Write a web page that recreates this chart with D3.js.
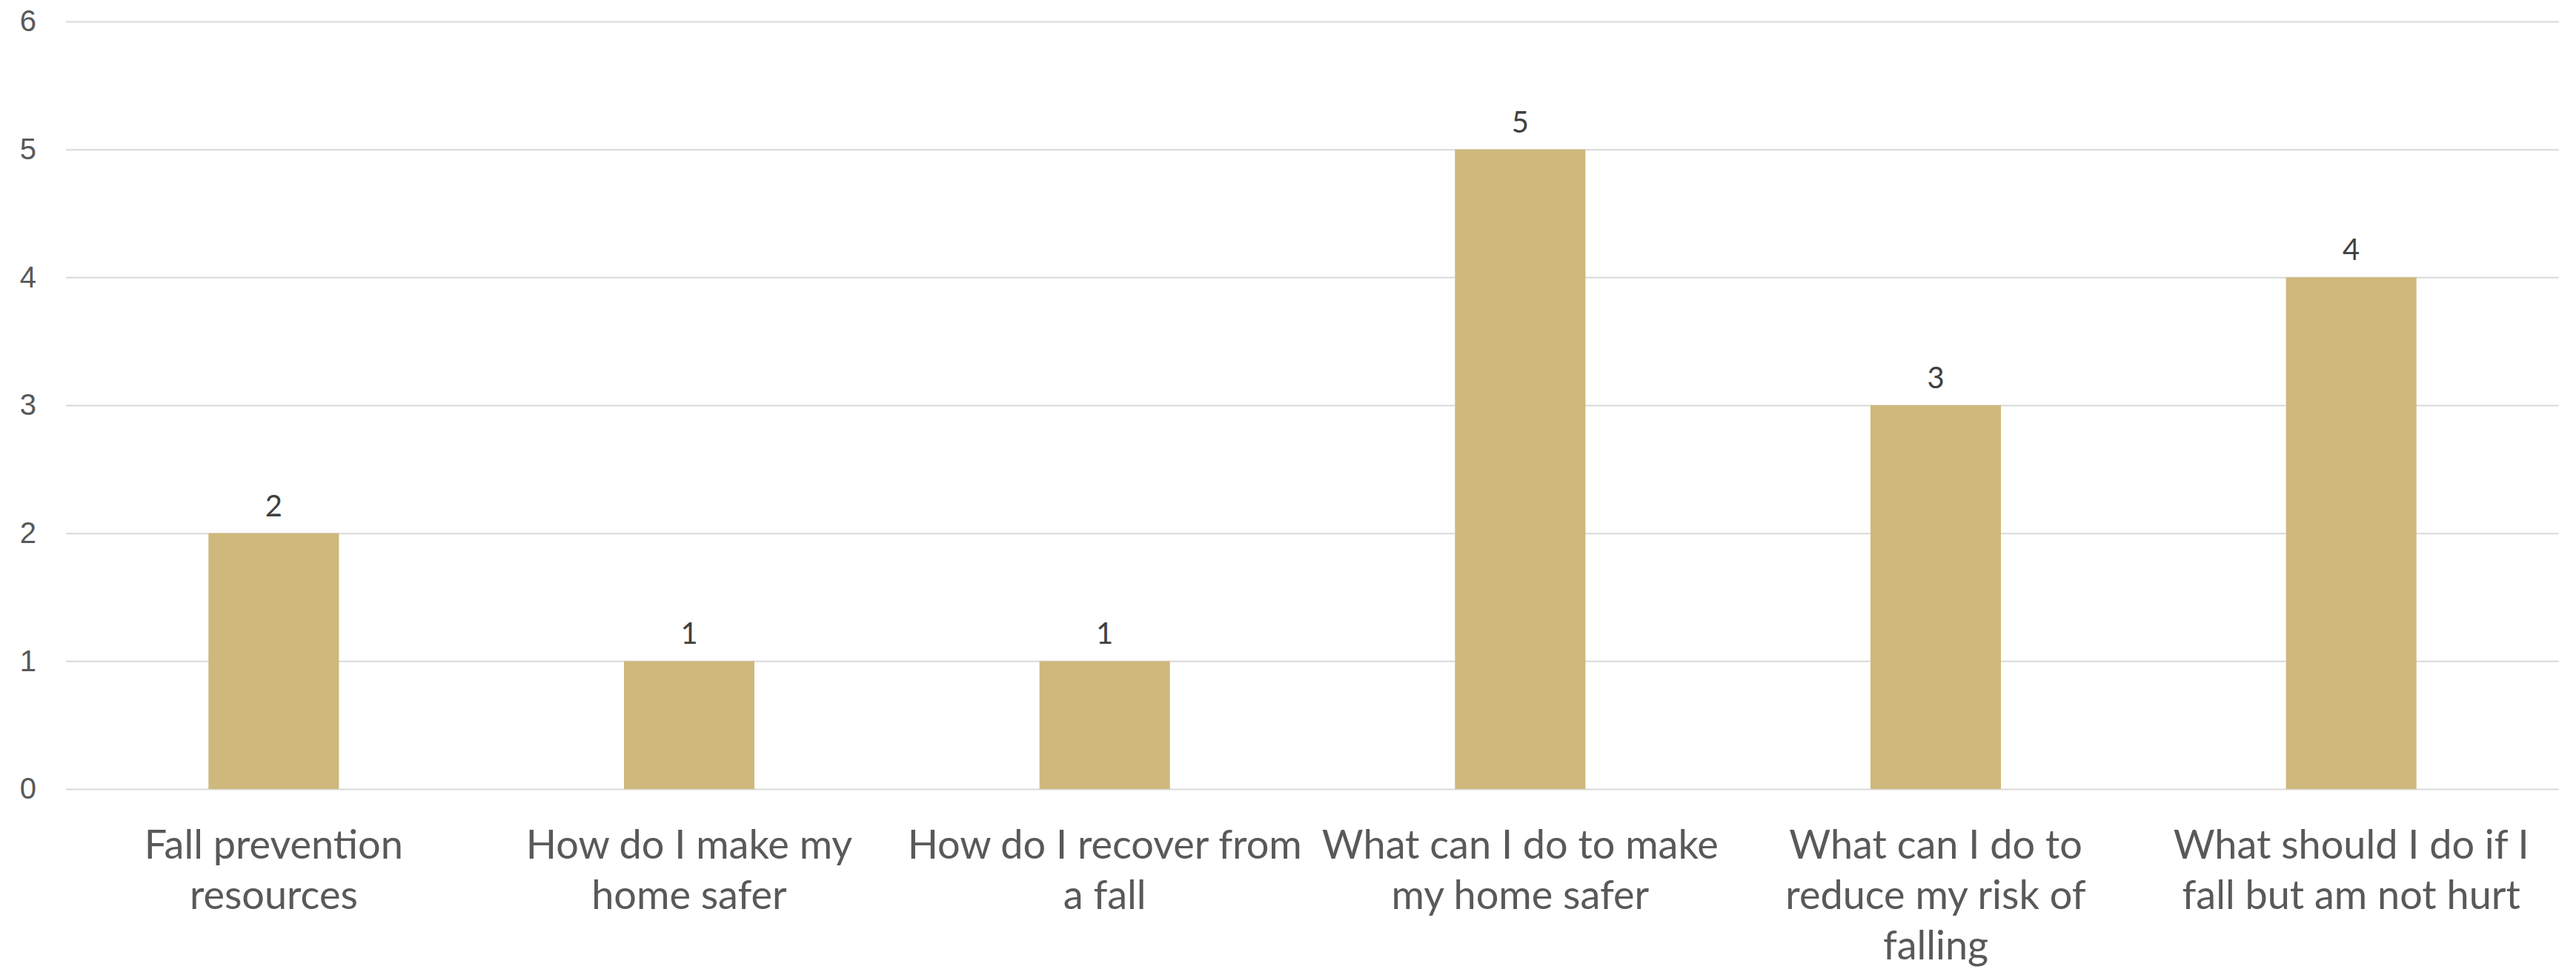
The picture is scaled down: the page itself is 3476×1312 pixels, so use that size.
<!DOCTYPE html>
<html>
<head>
<meta charset="utf-8">
<script src="https://cdn.jsdelivr.net/npm/d3@7"></script>
<style>
  body { margin: 0; background: #fff; }
  svg { display: block; }
</style>
</head>
<body>
<div id="chart-area"></div>
<script>
// Data
var categories = [
    "Fall prevention resources",
    "How do I make my home safer",
    "How do I recover from a fall",
    "What can I do to make my home safer",
    "What can I do to reduce my risk of falling",
    "What should I do if I fall but am not hurt"
];
var labelLines = [
    ["Fall prevention", "resources"],
    ["How do I make my", "home safer"],
    ["How do I recover from", "a fall"],
    ["What can I do to make", "my home safer"],
    ["What can I do to", "reduce my risk of", "falling"],
    ["What should I do if I", "fall but am not hurt"]
];
var values = [2, 1, 1, 5, 3, 4];
var yTicks = [0, 1, 2, 3, 4, 5, 6];

var margin = {top: 29, right: 23, bottom: 247, left: 89},
    width = 3476 - margin.left - margin.right,
    height = 1312 - margin.top - margin.bottom;

var svg = d3.select("#chart-area").append("svg")
    .attr("width", width + margin.left + margin.right)
    .attr("height", height + margin.top + margin.bottom)
    .style("font-family", "Lato, 'Open Sans', sans-serif");

var g = svg.append("g")
    .attr("transform", "translate(" + margin.left + "," + margin.top + ")");

// Scales
var x = d3.scaleBand().domain(categories).range([0, width]).padding(0);
var y = d3.scaleLinear().domain([0, 6]).range([height, 0]);
var barW = x.bandwidth() * 0.314;

// Gridlines + y labels
var yAxis = g.append("g")
    .attr("class", "y axis")
    .call(d3.axisLeft(y).tickValues(yTicks).tickSize(-width).tickPadding(40).tickFormat(d3.format("d")));
yAxis.select(".domain").remove();
yAxis.selectAll(".tick line").attr("stroke", "#d9d9d9").attr("stroke-width", 2);
yAxis.selectAll(".tick text")
    .attr("fill", "#595959")
    .style("font-size", "40px");

// Bars
g.selectAll(".bar")
    .data(values)
    .enter().append("rect")
    .attr("class", "bar")
    .attr("x", (d, i) => x(categories[i]) + (x.bandwidth() - barW) / 2)
    .attr("y", (d) => y(d))
    .attr("width", barW)
    .attr("height", (d) => height - y(d))
    .attr("fill", "#ceb87c");

// Data labels
g.selectAll(".value")
    .data(values)
    .enter().append("text")
    .attr("class", "value")
    .attr("x", (d, i) => x(categories[i]) + x.bandwidth() / 2)
    .attr("y", (d) => y(d) - 23)
    .attr("text-anchor", "middle")
    .attr("fill", "#404040")
    .style("font-size", "40px")
    .text((d) => d);

// Category labels (wrapped as in the original)
var xl = g.selectAll(".xlabel")
    .data(categories)
    .enter().append("text")
    .attr("class", "xlabel")
    .attr("text-anchor", "middle")
    .attr("fill", "#595959")
    .style("font-size", "54px")
    .attr("transform", (d) => "translate(" + (x(d) + x.bandwidth() / 2) + "," + (height + 94) + ")");

xl.each(function(d, i) {
    var t = d3.select(this);
    labelLines[i].forEach((line, j) => {
        t.append("tspan").attr("x", 0).attr("y", j * 68).text(line);
    });
});
</script>
</body>
</html>
